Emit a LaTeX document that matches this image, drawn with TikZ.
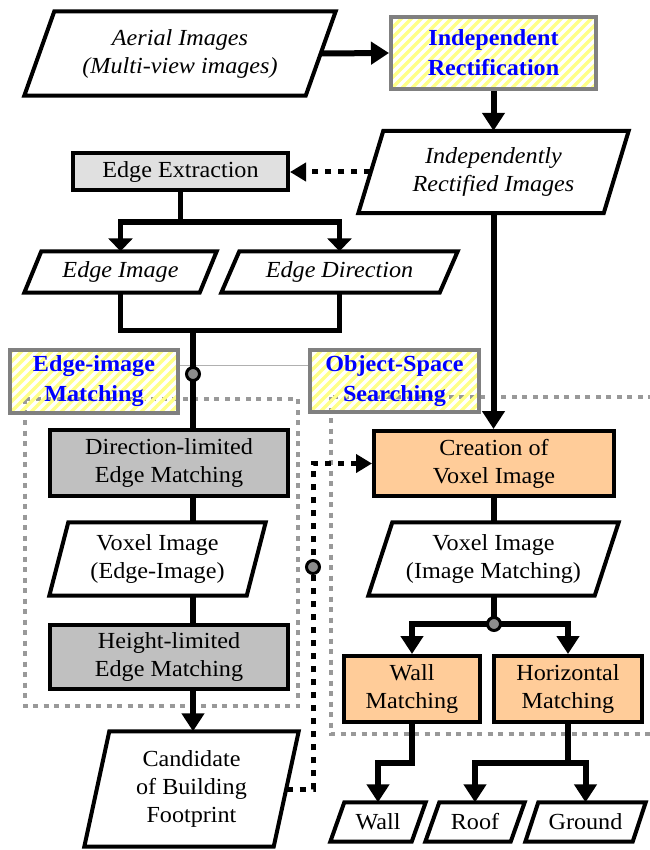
\documentclass[tikz,border=0pt]{standalone}
\usepackage{fontspec}
\setmainfont{Liberation Serif}[FakeStretch=1.05]
\usetikzlibrary{arrows.meta,calc}
\definecolor{peach}{HTML}{FFCC99}
\definecolor{lgray}{HTML}{E0E0E0}
\definecolor{mgray}{HTML}{C0C0C0}
\definecolor{bordergray}{HTML}{808080}
\definecolor{dotgray}{HTML}{999999}
\definecolor{jointgray}{HTML}{8C8C8C}
\definecolor{thingray}{HTML}{B0B0B0}
\definecolor{stripeyellow}{HTML}{FFFF88}
\definecolor{labelblue}{HTML}{0000FF}
\newcommand\myfs{\fontsize{23}{28}\selectfont}
\newcommand\mylfs{\fontsize{23}{30}\selectfont}
\newcommand\paraline[2]{\draw[pline] ([xshift=#2pt]#1.north west) -- (#1.north east) -- ([xshift=-#2pt]#1.south east) -- (#1.south west) -- cycle;}
\tikzset{
  procbox/.style={rectangle, draw=black, line width=4pt, inner sep=0pt, align=center, font=\myfs},
  lblbox/.style={rectangle, draw=bordergray, line width=4pt, inner sep=0pt, align=center,
    font=\mylfs\bfseries, text=labelblue,
    path picture={\foreach \k in {-150,-140,...,250}{\draw[draw=stripeyellow, line width=3.5pt] ($(path picture bounding box.south west)+(\k,0)$) -- ++(150,-150);}}},
  ptext/.style={rectangle, inner sep=0pt, align=center, font=\myfs},
  pitext/.style={rectangle, inner sep=0pt, align=center, font=\myfs\itshape},
  pline/.style={draw=black, line width=4pt},
  conn/.style={draw=black, line width=6pt, line join=miter},
  connthin/.style={draw=black, line width=5pt, line join=miter},
  arr/.style={conn, -{Triangle[length=18pt,width=22pt]}},
  arrthin/.style={connthin, -{Triangle[length=13pt,width=24pt]}},
  gdot/.style={draw=dotgray, line width=4pt, dash pattern=on 5pt off 5.5pt},
  bdot/.style={draw=black, line width=5pt, dash pattern=on 6pt off 7pt, -{Triangle[length=16pt,width=18pt]}},
  joint/.style={circle, draw=black, line width=3pt, fill=jointgray, minimum size=13pt, inner sep=0pt}
}
\begin{document}
\begin{tikzpicture}[x=1pt,y=-1pt]
\useasboundingbox (0,0) rectangle (649,850);
\fill[white] (0,0) rectangle (649,850);
% group frames
\draw[gdot] (25,399) rectangle (298,706);
\draw[gdot] (331,397) rectangle (680,734);
% nodes
\node[pitext, minimum width=311pt, minimum height=84pt] (AI) at (180,53.5) {Aerial Images\\(Multi-view images)};
\paraline{AI}{30}
\node[lblbox, minimum width=205pt, minimum height=72pt] (RECT) at (493.5,53) {Independent\\Rectification};
\node[pitext, minimum width=270pt, minimum height=82pt] (IRI) at (493.5,172) {Independently\\Rectified Images};
\paraline{IRI}{25}
\node[procbox, fill=lgray, minimum width=215pt, minimum height=37pt] (EE) at (180.5,172) {Edge Extraction};
\node[pitext, minimum width=192pt, minimum height=41pt] (EI) at (120.5,272) {Edge Image};
\paraline{EI}{17}
\node[pitext, minimum width=236pt, minimum height=41pt] (ED) at (339.5,272) {Edge Direction};
\paraline{ED}{18}
\node[lblbox, minimum width=168pt, minimum height=63pt] (EIM) at (94,381.5) {Edge-image\\Matching};
\node[lblbox, minimum width=169pt, minimum height=62pt] (OSS) at (394.5,381) {Object-Space\\Searching};
\node[procbox, fill=mgray, minimum width=238pt, minimum height=66pt] (DLEM) at (169,463) {Direction-limited\\Edge Matching};
\node[ptext, minimum width=216pt, minimum height=73pt] (VIE) at (157.5,559) {Voxel Image\\(Edge-Image)};
\paraline{VIE}{19}
\node[procbox, fill=mgray, minimum width=238pt, minimum height=64pt] (HLEM) at (169,657) {Height-limited\\Edge Matching};
\node[ptext, minimum width=214pt, minimum height=115pt] (CBF) at (191.5,789) {Candidate\\of Building\\Footprint};
\paraline{CBF}{25}
\node[procbox, fill=peach, minimum width=240pt, minimum height=65pt] (CVI) at (494,463.5) {Creation of\\Voxel Image};
\node[ptext, minimum width=250pt, minimum height=73pt] (VIM) at (493.5,559) {Voxel Image\\(Image Matching)};
\paraline{VIM}{24}
\node[procbox, fill=peach, minimum width=136pt, minimum height=66pt] (WM) at (412,689) {Wall\\Matching};
\node[procbox, fill=peach, minimum width=148pt, minimum height=66pt] (HM) at (568,689) {Horizontal\\Matching};
\node[ptext, minimum width=95pt, minimum height=39pt] (WALL) at (378,822) {Wall};
\paraline{WALL}{14}
\node[ptext, minimum width=99pt, minimum height=39pt] (ROOF) at (475,822) {Roof};
\paraline{ROOF}{14}
\node[ptext, minimum width=120pt, minimum height=39pt] (GROUND) at (585.5,822) {Ground};
\paraline{GROUND}{13}
% thin line between labels
\draw[draw=thingray, line width=1pt] ([yshift=16pt]EIM.east) -- ([yshift=16pt]EIM.east -| OSS.west);
% coordinates
\coordinate (B1) at (180.5,222);
\coordinate (B2) at (193,330);
\coordinate (B3) at (494,624);
\coordinate (B4) at (412,763);
\coordinate (B5) at (568,763);
\coordinate (V1) at (313,463.5);
% connectors
\draw[arr] ([xshift=-15pt]AI.east) -- (RECT.west);
\draw[arr] (RECT.south) -- (IRI.north);
\draw[bdot] ([xshift=12pt]IRI.west) -- (EE.east);
\draw[connthin] (EE.south) -- (B1);
\draw[arrthin] (B1) -| (EI.north);
\draw[arrthin] (B1) -| (ED.north);
\draw[connthin] (EI.south) |- (B2) -| (ED.south);
\draw[conn] (B2) -- (B2 |- DLEM.north);
\draw[conn] (B2 |- DLEM.south) -- (B2 |- VIE.north);
\draw[conn] (B2 |- VIE.south) -- (B2 |- HLEM.north);
\draw[arr] (B2 |- HLEM.south) -- (B2 |- CBF.north);
\draw[arr] (IRI.south) -- (IRI.south |- CVI.north);
\draw[bdot] ([xshift=-12pt]CBF.east) -| (V1) -- (CVI.west);
\draw[conn] (CVI.south) -- (CVI.south |- VIM.north);
\draw[conn] (B3 |- VIM.south) -- (B3);
\draw[arr] (B3) -| (WM.north);
\draw[arr] (B3) -| (HM.north);
\draw[arr] (WM.south) -- (B4) -| (WALL.north);
\draw[conn] (HM.south) -- (B5);
\draw[arr] (B5) -| (ROOF.north);
\draw[arr] (B5) -| (GROUND.north);
% joints
\node[joint] (J1) at (193,374) {};
\node[joint] (J2) at (313,567) {};
\node[joint] (J3) at (494,624) {};
\end{tikzpicture}
\end{document}
